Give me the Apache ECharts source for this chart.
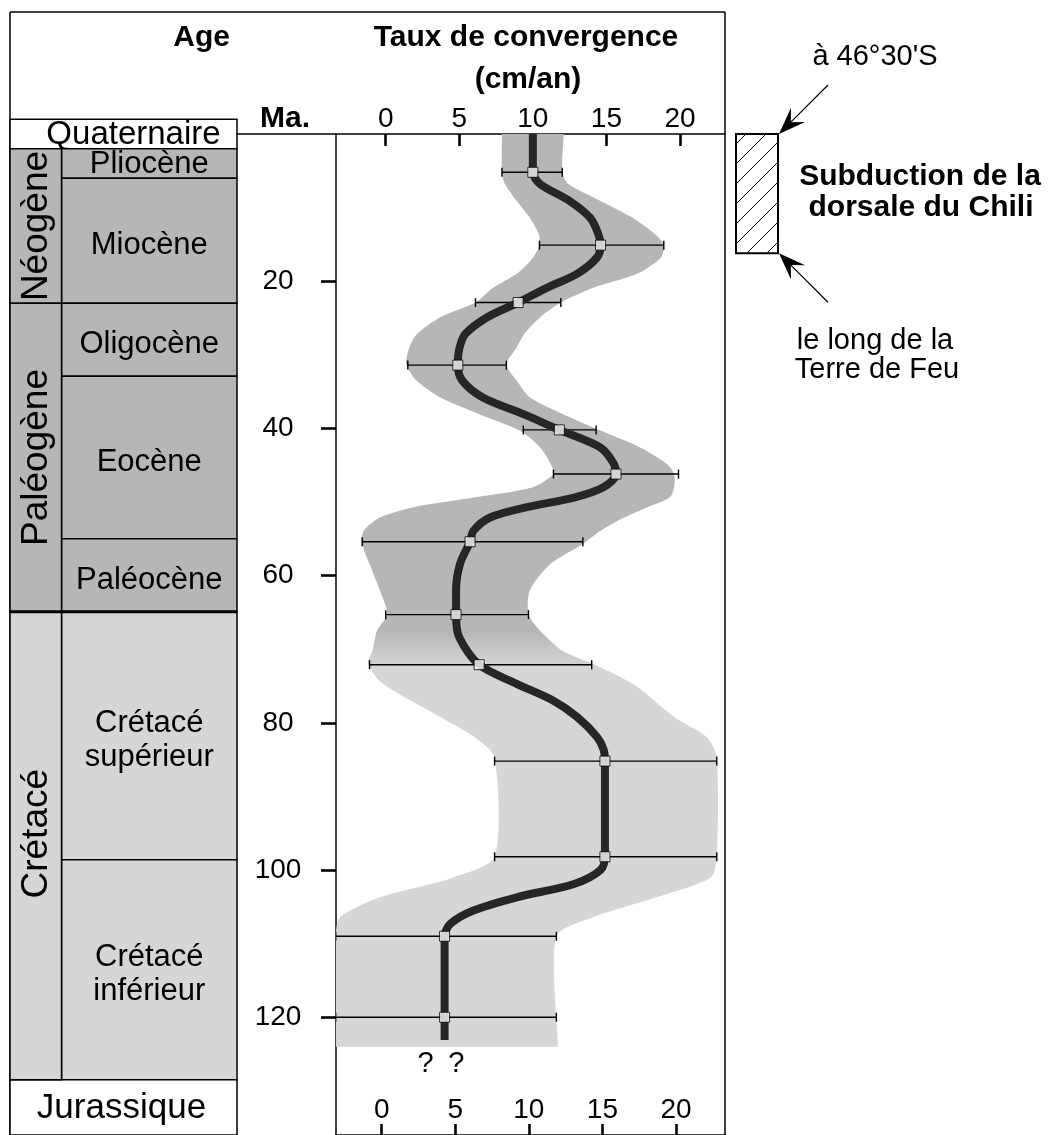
<!DOCTYPE html>
<html><head><meta charset="utf-8">
<script src="https://cdn.jsdelivr.net/npm/echarts@6/dist/echarts.min.js"></script>
<style>html,body{margin:0;padding:0;background:#fff}#c{width:1055px;height:1135px}</style>
</head><body><div id="c"></div>
<script>
// ---------------- data ----------------
const xTicks = [0, 5, 10, 15, 20];
const yTicks = [20, 40, 60, 80, 100, 120];

// geological time scale (Ma)
const epochNames  = ['Quaternaire', 'Pliocène', 'Miocène', 'Oligocène', 'Eocène', 'Paléocène', 'Crétacé\nsupérieur', 'Crétacé\ninférieur', 'Jurassique'];
const epochTop    = [-2.0, 2.0, 6.0, 23.0, 32.9, 55.0, 64.9, 98.6, 128.5];
const epochBottom = [2.0, 6.0, 23.0, 32.9, 55.0, 64.9, 98.6, 128.5, 136.0];
const periodNames  = ['Néogène', 'Paléogène', 'Crétacé'];
const periodTop    = [2.0, 23.0, 64.9];
const periodBottom = [23.0, 64.9, 128.5];

// convergence rate estimates (cm/an) with error bars
const ptAge  = [5.2, 15.1, 22.9, 31.4, 40.2, 46.2, 55.4, 65.3, 72.1, 85.2, 98.2, 109.0, 120.0];
const ptRate = [10.0, 14.6, 9.0, 4.9, 11.8, 15.65, 5.73, 4.78, 6.35, 14.9, 14.9, 4.0, 4.0];
const errLo  = [7.9, 10.45, 6.1, 1.5, 9.35, 11.4, -1.6, 0.0, -1.1, 7.4, 7.4, -3.4, -3.4];
const errHi  = [12.0, 18.9, 11.9, 8.2, 14.3, 19.9, 13.4, 9.7, 14.0, 22.5, 22.5, 11.6, 11.6];

// smoothed convergence curve
const curveAge  = [0, 5.2, 6.8, 9.1, 11.4, 13.6, 15.1, 16.8, 19.0, 20.9, 22.9, 24.9, 27.2, 29.2, 31.4, 33.5, 35.8, 38.1, 40.2, 42.6, 44.8, 46.2, 48.0, 49.4, 50.7, 52.1, 53.9, 55.4, 58.4, 62.0, 65.3, 68.4, 72.1, 74.7, 77.0, 79.2, 81.9, 83.6, 85.2, 98.2, 100.0, 101.9, 103.7, 105.5, 107.3, 109.0, 120.0, 123.1];
const curveRate = [10.0, 10.0, 10.5, 12.5, 13.9, 14.45, 14.6, 14.35, 13.0, 10.95, 9.0, 6.9, 5.4, 5.0, 4.9, 5.2, 6.6, 9.4, 11.8, 14.6, 15.5, 15.65, 14.8, 12.8, 9.6, 7.1, 5.96, 5.73, 5.05, 4.78, 4.78, 5.0, 6.35, 8.9, 11.4, 13.0, 14.35, 14.8, 14.9, 14.9, 14.6, 12.8, 8.9, 5.96, 4.4, 4.0, 4.0, 4.0];

// uncertainty envelope
const bandAge   = [0, 5.2, 6.8, 9.1, 11.4, 13.6, 15.1, 16.8, 19.0, 20.9, 22.9, 24.9, 27.2, 29.0, 31.3, 33.5, 35.8, 38.1, 40.3, 42.6, 44.8, 46.2, 48.0, 49.4, 50.7, 52.1, 53.9, 55.7, 58.4, 62.0, 65.2, 67.5, 70.2, 72.0, 74.7, 79.2, 81.9, 84.7, 98.2, 101.0, 103.7, 106.4, 109.0, 124.0];
const bandLeft  = [7.9, 7.9, 8.1, 8.9, 9.8, 10.4, 10.45, 10.0, 8.9, 7.3, 6.1, 3.7, 2.1, 1.6, 1.4, 2.1, 3.7, 6.4, 9.1, 10.5, 11.2, 11.4, 10.0, 6.0, 1.9, -0.4, -1.5, -1.6, -1.1, -0.4, 0.1, -0.6, -0.9, -1.2, -0.2, 3.7, 6.0, 7.4, 7.4, 4.6, -0.4, -3.1, -3.4, -3.4];
const bandRight = [12.1, 12.0, 12.4, 14.6, 16.8, 18.3, 18.9, 18.7, 17.1, 14.1, 11.9, 10.5, 9.4, 8.9, 8.2, 8.9, 9.8, 12.1, 14.6, 17.3, 19.1, 19.6, 19.6, 19.3, 17.8, 16.2, 14.6, 13.4, 11.2, 9.8, 9.7, 10.5, 12.0, 14.1, 16.8, 19.6, 21.8, 22.5, 22.5, 22.1, 18.4, 14.1, 11.6, 11.7];
const bandSplitAge = 67.5; // texture changes (Cénozoïque / Crétacé)

// uncertain start of record
const qmarkRate = [2.7, 4.8];
const qmarkAge  = [126.3, 126.3];

// ridge subduction interval (Ma)
const subTop = 0, subBottom = 16.2;

// ---------------- layout ----------------
const FONT = '"Liberation Sans", Arial, Helvetica, sans-serif';
const X_MIN = -3.38, X_MAX = 23.06, Y_MAX = 136.0;
const X2_MIN = -3.107, X2_MAX = 23.333;
const DARK = '#b6b6b6', LIGHT = '#d6d6d6';
const periodLabelShift = [0, 0, -12];
const epochLabelDx = [10, 0, 0, 0, 0, 0, 0, 0, -2];
const epochLabelSize = [33, 31, 31, 31, 31, 31, 31, 31, 35];

const chart = echarts.init(document.getElementById('c'), null, {renderer: 'canvas'});

const hatch = document.createElement('canvas');
hatch.width = 20; hatch.height = 20;
(function(){
  const g = hatch.getContext('2d');
  g.fillStyle = '#fff'; g.fillRect(0,0,20,20);
  g.strokeStyle = '#000'; g.lineWidth = 1;
  g.beginPath();
  g.moveTo(0,20); g.lineTo(20,0);
  g.moveTo(-3,3); g.lineTo(3,-3);
  g.moveTo(17,23); g.lineTo(23,17);
  g.stroke();
})();

function txt(x, y, text, size, bold, align) {
  return {type:'text', x:x, y:y, style:{text:text, fontSize:size, fontWeight: bold ? 'bold' : 'normal',
    fontFamily:FONT, fill:'#000', align: align || 'center', verticalAlign:'middle'}};
}
function ln(x1,y1,x2,y2,w){
  return {type:'line', shape:{x1:x1,y1:y1,x2:x2,y2:y2}, style:{stroke:'#000', lineWidth:w||1.5}};
}

function renderEpoch(params, api) {
  const i = params.dataIndex;
  const top = epochTop[i], bot = epochBottom[i];
  let nested = false;
  for (let k = 0; k < periodNames.length; k++) if (top >= periodTop[k] - 0.01 && bot <= periodBottom[k] + 0.01) nested = true;
  const p0 = api.coord([nested ? 0.227 : 0, top]);
  const p1 = api.coord([1, bot]);
  const inCret = top >= periodTop[2] - 0.01 && nested;
  const fill = !nested ? '#fff' : (inCret ? LIGHT : DARK);
  const small = (p1[1] - p0[1]) < 40;
  return {type:'group', children:[
    {type:'rect', shape:{x:p0[0], y:p0[1], width:p1[0]-p0[0], height:p1[1]-p0[1]},
      style:{fill:fill, stroke:'#000', lineWidth:1.5}},
    {type:'text', x:(p0[0]+p1[0])/2 + epochLabelDx[i], y:(p0[1]+p1[1])/2 + (!nested || small ? 1 : 5),
      style:{text:epochNames[i], fontSize: epochLabelSize[i], fontFamily:FONT, fill:'#000',
        align:'center', verticalAlign:'middle', lineHeight:34}}
  ]};
}
function renderPeriod(params, api) {
  const i = params.dataIndex;
  const p0 = api.coord([0, periodTop[i]]);
  const p1 = api.coord([0.227, periodBottom[i]]);
  const fill = i === 2 ? LIGHT : DARK;
  return {type:'group', children:[
    {type:'rect', shape:{x:p0[0], y:p0[1], width:p1[0]-p0[0], height:p1[1]-p0[1]},
      style:{fill:fill, stroke:'#000', lineWidth:1.5}},
    {type:'text', x:(p0[0]+p1[0])/2 + 1, y:(p0[1]+p1[1])/2 + periodLabelShift[i], rotation: Math.PI/2,
      style:{text:periodNames[i], fontSize:37, fontFamily:FONT, fill:'#000', align:'center', verticalAlign:'middle'}}
  ]};
}
function renderBoundary(params, api) {
  // heavier line at the Cenozoic / Cretaceous boundary
  const a = api.coord([0, periodTop[2]]), b = api.coord([1, periodTop[2]]);
  return ln(a[0], a[1], b[0], b[1], 3);
}
function renderBand(params, api) {
  const L = bandAge.map((a,i) => api.coord([bandLeft[i], a]));
  const R = bandAge.map((a,i) => api.coord([bandRight[i], a])).reverse();
  // keep the top and bottom corners square
  L.unshift(L[0].slice()); L.push(L[L.length-1].slice());
  R.unshift(R[0].slice()); R.push(R[R.length-1].slice());
  const y0 = api.coord([0, bandAge[0]])[1];
  const y1 = api.coord([0, bandAge[bandAge.length-1]])[1];
  const ys = api.coord([0, bandSplitAge])[1];
  const s = (ys - y0) / (y1 - y0);
  return {type:'polygon', shape:{points:L.concat(R), smooth:0.25},
    style:{fill: new echarts.graphic.LinearGradient(0, y0, 0, y1, [
      {offset:0, color:DARK}, {offset:s, color:DARK}, {offset:Math.min(1,s+0.04), color:LIGHT}, {offset:1, color:LIGHT}], true),
      stroke:null}};
}
function renderErr(params, api) {
  const i = params.dataIndex;
  const p0 = api.coord([errLo[i], ptAge[i]]), p1 = api.coord([errHi[i], ptAge[i]]);
  const h = 4.5;
  return {type:'group', children:[
    ln(p0[0],p0[1],p1[0],p1[1],1.4),
    ln(p0[0],p0[1]-h,p0[0],p0[1]+h,1.4),
    ln(p1[0],p1[1]-h,p1[0],p1[1]+h,1.4)
  ]};
}
function renderQ(params, api) {
  const i = params.dataIndex;
  const p = api.coord([qmarkRate[i], qmarkAge[i]]);
  return {type:'text', x:p[0], y:p[1], style:{text:'?', fontSize:29, fontFamily:FONT, fill:'#000', align:'center', verticalAlign:'middle'}};
}
function arrow(tip, tail) {
  const dx = tip[0]-tail[0], dy = tip[1]-tail[1];
  const len = Math.sqrt(dx*dx+dy*dy), ux = dx/len, uy = dy/len, nx = -uy, ny = ux;
  const L = 27, Wd = 10;
  const b = [tip[0]-ux*L, tip[1]-uy*L];
  const notch = [tip[0]-ux*L*0.62, tip[1]-uy*L*0.62];
  return [
    ln(tail[0], tail[1], notch[0], notch[1], 1.2),
    {type:'polygon', shape:{points:[tip, [b[0]+nx*Wd, b[1]+ny*Wd], notch, [b[0]-nx*Wd, b[1]-ny*Wd]]}, style:{fill:'#000'}}
  ];
}
function renderSub(params, api) {
  const p0 = api.coord([0, subTop]), p1 = api.coord([1, subBottom]);
  const children = [
    {type:'rect', shape:{x:p0[0], y:p0[1], width:p1[0]-p0[0], height:p1[1]-p0[1]},
      style:{fill:{image:hatch, repeat:'repeat'}, stroke:'#000', lineWidth:2}}
  ];
  const tr = [p1[0]+1, p0[1]], br = [p1[0]+1, p1[1]];
  return {type:'group', children: children.concat(arrow(tr, [tr[0]+49, tr[1]-49]), arrow(br, [br[0]+49, br[1]+49]))};
}

const axisFont = {fontSize:28, color:'#000', fontFamily:FONT};
const option = {
  animation:false,
  backgroundColor:'#fff',
  grid:[
    {left:336, right:1055-725, top:134, bottom:0},
    {left:10, right:1055-237, top:134, bottom:0},
    {left:736, right:1055-778, top:134, bottom:0}
  ],
  xAxis:[
    {gridIndex:0, type:'value', position:'top', min:X_MIN, max:X_MAX,
      axisLine:{show:true, onZero:false, lineStyle:{color:'#000', width:1.5}},
      axisTick:{show:true, inside:true, length:12, customValues:xTicks, lineStyle:{color:'#000', width:2.6}},
      axisLabel:Object.assign({show:true, margin:1, customValues:xTicks}, axisFont),
      splitLine:{show:false}},
    {gridIndex:0, type:'value', position:'bottom', min:X2_MIN, max:X2_MAX,
      axisLine:{show:true, onZero:false, lineStyle:{color:'#000', width:1.5}},
      axisTick:{show:true, inside:true, length:11, customValues:xTicks, lineStyle:{color:'#000', width:2.6}},
      axisLabel:Object.assign({show:true, inside:true, margin:11, customValues:xTicks}, axisFont),
      splitLine:{show:false}},
    {gridIndex:1, type:'value', min:0, max:1, show:false},
    {gridIndex:2, type:'value', min:0, max:1, show:false}
  ],
  yAxis:[
    {gridIndex:0, type:'value', inverse:true, min:0, max:Y_MAX, position:'left',
      axisLine:{show:true, onZero:false, lineStyle:{color:'#000', width:1.5}},
      axisTick:{show:true, inside:false, length:15, customValues:yTicks, lineStyle:{color:'#000', width:2.6}},
      axisLabel:Object.assign({show:true, margin:58, align:'center', customValues:yTicks}, axisFont),
      splitLine:{show:false}},
    {gridIndex:1, type:'value', inverse:true, min:0, max:Y_MAX, show:false},
    {gridIndex:2, type:'value', inverse:true, min:0, max:Y_MAX, show:false}
  ],
  series:[
    {type:'custom', name:'epochs', xAxisIndex:2, yAxisIndex:1, renderItem:renderEpoch, clip:false,
      data: epochNames.map((n,i)=>[0, epochTop[i], epochBottom[i]]), encode:{x:0, y:[1,2]}, z:2, silent:true},
    {type:'custom', name:'periods', xAxisIndex:2, yAxisIndex:1, renderItem:renderPeriod, clip:false,
      data: periodNames.map((n,i)=>[0, periodTop[i], periodBottom[i]]), encode:{x:0, y:[1,2]}, z:3, silent:true},
    {type:'custom', name:'boundary', xAxisIndex:2, yAxisIndex:1, renderItem:renderBoundary, clip:false,
      data: [[0, periodTop[2]]], encode:{x:0, y:1}, z:4, silent:true},
    {type:'custom', name:'band', xAxisIndex:0, yAxisIndex:0, renderItem:renderBand, clip:true,
      data:[[bandLeft[0], bandAge[0]]], encode:{x:0, y:1}, z:1, silent:true},
    {type:'custom', name:'errors', xAxisIndex:0, yAxisIndex:0, renderItem:renderErr, clip:true,
      data: ptAge.map((a,i)=>[errLo[i], errHi[i], a]), encode:{x:[0,1], y:2}, z:2, silent:true},
    {type:'line', name:'curve', xAxisIndex:0, yAxisIndex:0, smooth:0.3, showSymbol:false,
      data: curveAge.map((a,i)=>[curveRate[i], a]), lineStyle:{color:'#262626', width:8, cap:'butt'}, z:3, silent:true},
    {type:'scatter', name:'points', xAxisIndex:0, yAxisIndex:0, symbol:'rect', symbolSize:10,
      data: ptAge.map((a,i)=>[ptRate[i], a]), itemStyle:{color:'#fff', borderColor:'#000', borderWidth:1}, z:4, silent:true},
    {type:'custom', name:'qmarks', xAxisIndex:0, yAxisIndex:0, renderItem:renderQ, clip:false,
      data: qmarkAge.map((a,i)=>[qmarkRate[i], a]), encode:{x:0, y:1}, z:4, silent:true},
    {type:'custom', name:'subduction', xAxisIndex:3, yAxisIndex:2, renderItem:renderSub, clip:false,
      data:[[0, subTop, subBottom]], encode:{x:0, y:[1,2]}, z:4, silent:true}
  ],
  graphic:[
    ln(10, 12, 725, 12), ln(10, 12, 10, 1135), ln(725, 12, 725, 1135), ln(237, 134, 336, 134),
    txt(230, 38, 'Age', 30, true, 'right'),
    txt(526, 38, 'Taux de convergence', 30, true),
    txt(528, 80, '(cm/an)', 30, true),
    txt(310, 119, 'Ma.', 30, true, 'right'),
    txt(875, 57, 'à 46°30\'S', 29, false),
    txt(920, 177, 'Subduction de la', 30, true),
    txt(921, 208, 'dorsale du Chili', 30, true),
    txt(875, 341, 'le long de la', 29, false),
    txt(877, 370, 'Terre de Feu', 29, false)
  ]
};
chart.setOption(option);
</script>
</body></html>
